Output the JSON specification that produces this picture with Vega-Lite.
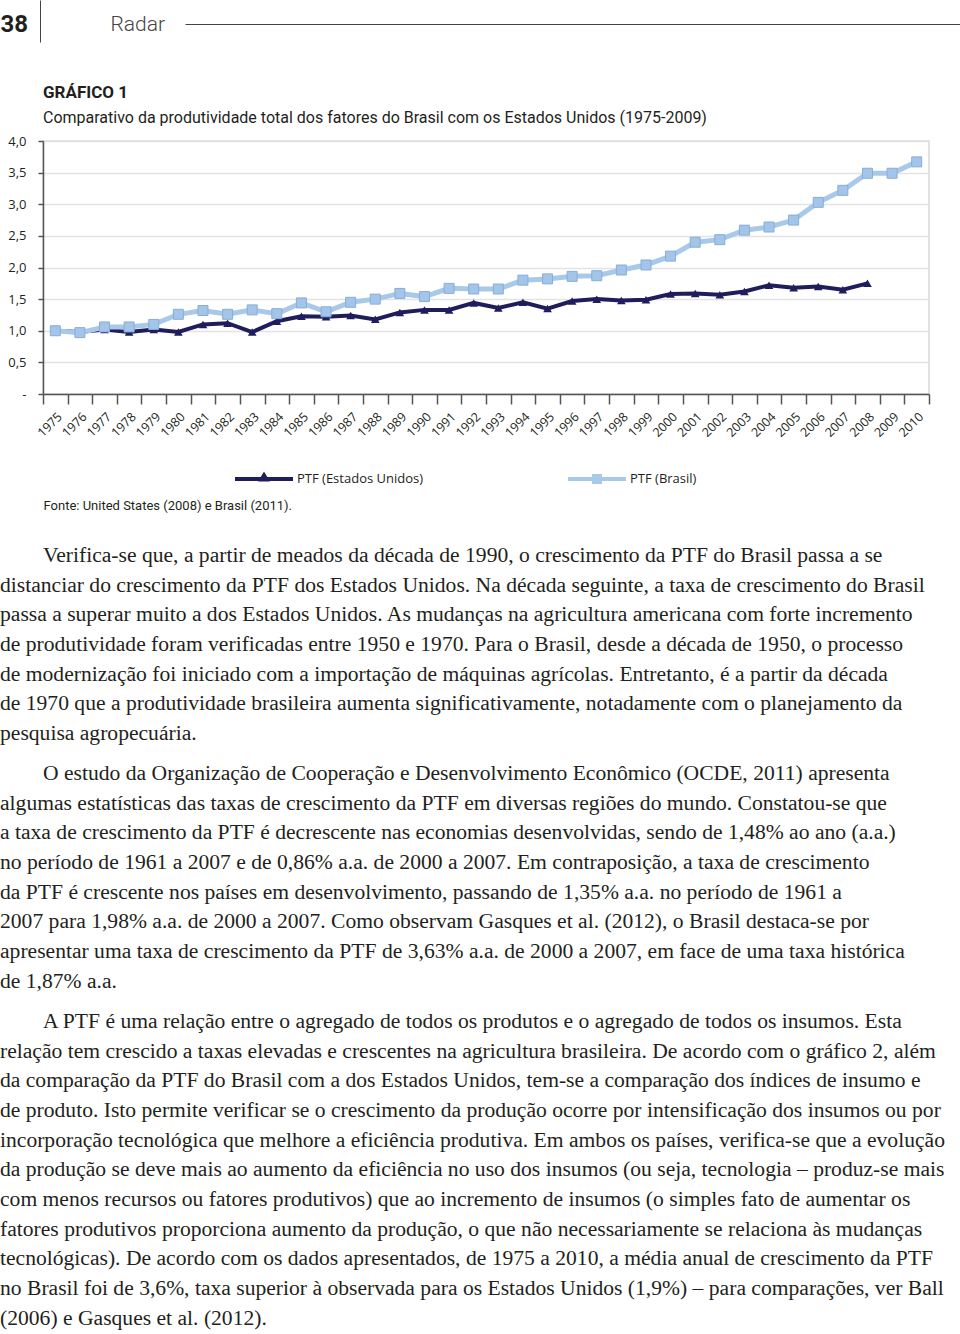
{
  "$schema": "https://vega.github.io/schema/vega-lite/v6.json",
  "background": "white",
  "padding": 0,
  "config": {"view": {"stroke": null}},
  "datasets": {
    "series": [
      {"year": 1975, "series": "PTF (Estados Unidos)", "ptf": 1.00},
      {"year": 1976, "series": "PTF (Estados Unidos)", "ptf": 0.98},
      {"year": 1977, "series": "PTF (Estados Unidos)", "ptf": 1.02},
      {"year": 1978, "series": "PTF (Estados Unidos)", "ptf": 0.98},
      {"year": 1979, "series": "PTF (Estados Unidos)", "ptf": 1.02},
      {"year": 1980, "series": "PTF (Estados Unidos)", "ptf": 0.98},
      {"year": 1981, "series": "PTF (Estados Unidos)", "ptf": 1.10},
      {"year": 1982, "series": "PTF (Estados Unidos)", "ptf": 1.12},
      {"year": 1983, "series": "PTF (Estados Unidos)", "ptf": 0.98},
      {"year": 1984, "series": "PTF (Estados Unidos)", "ptf": 1.15},
      {"year": 1985, "series": "PTF (Estados Unidos)", "ptf": 1.23},
      {"year": 1986, "series": "PTF (Estados Unidos)", "ptf": 1.22},
      {"year": 1987, "series": "PTF (Estados Unidos)", "ptf": 1.24},
      {"year": 1988, "series": "PTF (Estados Unidos)", "ptf": 1.18},
      {"year": 1989, "series": "PTF (Estados Unidos)", "ptf": 1.29},
      {"year": 1990, "series": "PTF (Estados Unidos)", "ptf": 1.33},
      {"year": 1991, "series": "PTF (Estados Unidos)", "ptf": 1.33},
      {"year": 1992, "series": "PTF (Estados Unidos)", "ptf": 1.44},
      {"year": 1993, "series": "PTF (Estados Unidos)", "ptf": 1.36},
      {"year": 1994, "series": "PTF (Estados Unidos)", "ptf": 1.45},
      {"year": 1995, "series": "PTF (Estados Unidos)", "ptf": 1.35},
      {"year": 1996, "series": "PTF (Estados Unidos)", "ptf": 1.47},
      {"year": 1997, "series": "PTF (Estados Unidos)", "ptf": 1.50},
      {"year": 1998, "series": "PTF (Estados Unidos)", "ptf": 1.48},
      {"year": 1999, "series": "PTF (Estados Unidos)", "ptf": 1.49},
      {"year": 2000, "series": "PTF (Estados Unidos)", "ptf": 1.58},
      {"year": 2001, "series": "PTF (Estados Unidos)", "ptf": 1.59},
      {"year": 2002, "series": "PTF (Estados Unidos)", "ptf": 1.57},
      {"year": 2003, "series": "PTF (Estados Unidos)", "ptf": 1.62},
      {"year": 2004, "series": "PTF (Estados Unidos)", "ptf": 1.72},
      {"year": 2005, "series": "PTF (Estados Unidos)", "ptf": 1.68},
      {"year": 2006, "series": "PTF (Estados Unidos)", "ptf": 1.70},
      {"year": 2007, "series": "PTF (Estados Unidos)", "ptf": 1.65},
      {"year": 2008, "series": "PTF (Estados Unidos)", "ptf": 1.75},
      {"year": 1975, "series": "PTF (Brasil)", "ptf": 1.00},
      {"year": 1976, "series": "PTF (Brasil)", "ptf": 0.97},
      {"year": 1977, "series": "PTF (Brasil)", "ptf": 1.06},
      {"year": 1978, "series": "PTF (Brasil)", "ptf": 1.06},
      {"year": 1979, "series": "PTF (Brasil)", "ptf": 1.10},
      {"year": 1980, "series": "PTF (Brasil)", "ptf": 1.26},
      {"year": 1981, "series": "PTF (Brasil)", "ptf": 1.32},
      {"year": 1982, "series": "PTF (Brasil)", "ptf": 1.26},
      {"year": 1983, "series": "PTF (Brasil)", "ptf": 1.33},
      {"year": 1984, "series": "PTF (Brasil)", "ptf": 1.27},
      {"year": 1985, "series": "PTF (Brasil)", "ptf": 1.44},
      {"year": 1986, "series": "PTF (Brasil)", "ptf": 1.30},
      {"year": 1987, "series": "PTF (Brasil)", "ptf": 1.45},
      {"year": 1988, "series": "PTF (Brasil)", "ptf": 1.50},
      {"year": 1989, "series": "PTF (Brasil)", "ptf": 1.59},
      {"year": 1990, "series": "PTF (Brasil)", "ptf": 1.54},
      {"year": 1991, "series": "PTF (Brasil)", "ptf": 1.67},
      {"year": 1992, "series": "PTF (Brasil)", "ptf": 1.66},
      {"year": 1993, "series": "PTF (Brasil)", "ptf": 1.66},
      {"year": 1994, "series": "PTF (Brasil)", "ptf": 1.80},
      {"year": 1995, "series": "PTF (Brasil)", "ptf": 1.82},
      {"year": 1996, "series": "PTF (Brasil)", "ptf": 1.86},
      {"year": 1997, "series": "PTF (Brasil)", "ptf": 1.87},
      {"year": 1998, "series": "PTF (Brasil)", "ptf": 1.96},
      {"year": 1999, "series": "PTF (Brasil)", "ptf": 2.04},
      {"year": 2000, "series": "PTF (Brasil)", "ptf": 2.18},
      {"year": 2001, "series": "PTF (Brasil)", "ptf": 2.40},
      {"year": 2002, "series": "PTF (Brasil)", "ptf": 2.44},
      {"year": 2003, "series": "PTF (Brasil)", "ptf": 2.59},
      {"year": 2004, "series": "PTF (Brasil)", "ptf": 2.64},
      {"year": 2005, "series": "PTF (Brasil)", "ptf": 2.75},
      {"year": 2006, "series": "PTF (Brasil)", "ptf": 3.03},
      {"year": 2007, "series": "PTF (Brasil)", "ptf": 3.22},
      {"year": 2008, "series": "PTF (Brasil)", "ptf": 3.49},
      {"year": 2009, "series": "PTF (Brasil)", "ptf": 3.49},
      {"year": 2010, "series": "PTF (Brasil)", "ptf": 3.67}
    ],
    "body": [
      {"p": 1, "l": 1, "kind": "first", "t": "Verifica-se que, a partir de meados da década de 1990, o crescimento da PTF do Brasil passa a se"},
      {"p": 1, "l": 2, "kind": "cont", "t": "distanciar do crescimento da PTF dos Estados Unidos. Na década seguinte, a taxa de crescimento do Brasil"},
      {"p": 1, "l": 3, "kind": "cont", "t": "passa a superar muito a dos Estados Unidos. As mudanças na agricultura americana com forte incremento"},
      {"p": 1, "l": 4, "kind": "cont", "t": "de produtividade foram verificadas entre 1950 e 1970. Para o Brasil, desde a década de 1950, o processo"},
      {"p": 1, "l": 5, "kind": "cont", "t": "de modernização foi iniciado com a importação de máquinas agrícolas. Entretanto, é a partir da década"},
      {"p": 1, "l": 6, "kind": "cont", "t": "de 1970 que a produtividade brasileira aumenta significativamente, notadamente com o planejamento da"},
      {"p": 1, "l": 7, "kind": "cont", "t": "pesquisa agropecuária."},
      {"p": 2, "l": 1, "kind": "first", "t": "O estudo da Organização de Cooperação e Desenvolvimento Econômico (OCDE, 2011) apresenta"},
      {"p": 2, "l": 2, "kind": "cont", "t": "algumas estatísticas das taxas de crescimento da PTF em diversas regiões do mundo. Constatou-se que"},
      {"p": 2, "l": 3, "kind": "cont", "t": "a taxa de crescimento da PTF é decrescente nas economias desenvolvidas, sendo de 1,48% ao ano (a.a.)"},
      {"p": 2, "l": 4, "kind": "cont", "t": "no período de 1961 a 2007 e de 0,86% a.a. de 2000 a 2007. Em contraposição, a taxa de crescimento"},
      {"p": 2, "l": 5, "kind": "cont", "t": "da PTF é crescente nos países em desenvolvimento, passando de 1,35% a.a. no período de 1961 a"},
      {"p": 2, "l": 6, "kind": "cont", "t": "2007 para 1,98% a.a. de 2000 a 2007. Como observam Gasques et al. (2012), o Brasil destaca-se por"},
      {"p": 2, "l": 7, "kind": "cont", "t": "apresentar uma taxa de crescimento da PTF de 3,63% a.a. de 2000 a 2007, em face de uma taxa histórica"},
      {"p": 2, "l": 8, "kind": "cont", "t": "de 1,87% a.a."},
      {"p": 3, "l": 1, "kind": "first", "t": "A PTF é uma relação entre o agregado de todos os produtos e o agregado de todos os insumos. Esta"},
      {"p": 3, "l": 2, "kind": "cont", "t": "relação tem crescido a taxas elevadas e crescentes na agricultura brasileira. De acordo com o gráfico 2, além"},
      {"p": 3, "l": 3, "kind": "cont", "t": "da comparação da PTF do Brasil com a dos Estados Unidos, tem-se a comparação dos índices de insumo e"},
      {"p": 3, "l": 4, "kind": "cont", "t": "de produto. Isto permite verificar se o crescimento da produção ocorre por intensificação dos insumos ou por"},
      {"p": 3, "l": 5, "kind": "cont", "t": "incorporação tecnológica que melhore a eficiência produtiva. Em ambos os países, verifica-se que a evolução"},
      {"p": 3, "l": 6, "kind": "cont", "t": "da produção se deve mais ao aumento da eficiência no uso dos insumos (ou seja, tecnologia – produz-se mais"},
      {"p": 3, "l": 7, "kind": "cont", "t": "com menos recursos ou fatores produtivos) que ao incremento de insumos (o simples fato de aumentar os"},
      {"p": 3, "l": 8, "kind": "cont", "t": "fatores produtivos proporciona aumento da produção, o que não necessariamente se relaciona às mudanças"},
      {"p": 3, "l": 9, "kind": "cont", "t": "tecnológicas). De acordo com os dados apresentados, de 1975 a 2010, a média anual de crescimento da PTF"},
      {"p": 3, "l": 10, "kind": "cont", "t": "no Brasil foi de 3,6%, taxa superior à observada para os Estados Unidos (1,9%) – para comparações, ver Ball"},
      {"p": 3, "l": 11, "kind": "cont", "t": "(2006) e Gasques et al. (2012)."}
    ]
  },
  "spacing": 28,
  "vconcat": [
    {
      "spacing": 40,
      "vconcat": [
        {
          "width": 917,
          "height": 24,
          "data": {"values": [{"v": 0}]},
          "mark": {"type": "point", "opacity": 0, "size": 1},
          "encoding": {
            "x": {"field": "v", "type": "quantitative", "scale": {"domain": [0, 1], "range": [142, 917]},
              "axis": {"orient": "bottom", "domain": true, "domainColor": "#444", "domainWidth": 1, "ticks": false, "labels": false, "grid": false,
                "title": "Radar", "titleX": 67, "titleY": 0, "titleAlign": "left", "titleBaseline": "middle", "titleAnchor": "start",
                "titleFont": "Roboto", "titleFontSize": 21, "titleFontWeight": 300, "titleColor": "#444"}},
            "y": {"field": "v", "type": "quantitative", "scale": {"domain": [0, 1], "range": [42, 0]},
              "axis": {"orient": "left", "offset": 3, "domain": true, "domainColor": "#444", "domainWidth": 1, "ticks": false, "labels": false, "grid": false,
                "title": "38", "titleAngle": 0, "titleX": -40, "titleY": 24, "titleAlign": "left", "titleBaseline": "middle", "titleAnchor": "start",
                "titleFont": "Roboto", "titleFontSize": 24, "titleFontWeight": "bold", "titleColor": "#231f20"}}
          }
        },
        {
          "width": 886,
          "height": 253,
          "view": {"stroke": "#d9d9d9", "strokeWidth": 1.5},
          "title": {
            "text": "GRÁFICO 1",
            "subtitle": "Comparativo da produtividade total dos fatores do Brasil com os Estados Unidos (1975-2009)",
            "anchor": "start", "frame": "group",
            "font": "Roboto", "fontSize": 17, "fontWeight": "bold", "color": "#231f20",
            "subtitleFont": "Roboto", "subtitleFontSize": 16, "subtitleColor": "#231f20", "subtitlePadding": 8,
            "offset": 8
          },
          "data": {"name": "series"},
          "encoding": {
            "x": {"field": "year", "type": "ordinal", "bandPosition": 0.5,
              "scale": {"type": "band", "paddingInner": 0, "paddingOuter": 0},
              "axis": {"title": "Fonte: United States (2008) e Brasil (2011).", "titleAnchor": "start", "titleAlign": "left", "titleX": 0, "titleY": 111, "titleBaseline": "middle",
                "titleFont": "Roboto", "titleFontSize": 13, "titleFontWeight": "normal", "titleColor": "#231f20",
                "labelAngle": -45, "labelAlign": "right", "labelBaseline": "top", "labelFont": "Open Sans", "labelFontSize": 12.5, "labelColor": "#231f20", "labelPadding": 6, "labelOverlap": false,
                "tickBand": "extent", "tickSize": 10, "tickColor": "#555", "tickWidth": 1.5, "domainColor": "#555", "domainWidth": 1.5, "grid": false}},
            "y": {"field": "ptf", "type": "quantitative", "scale": {"domain": [0, 4]},
              "axis": {"title": null, "values": [0, 0.5, 1, 1.5, 2, 2.5, 3, 3.5, 4],
                "labelExpr": "datum.value == 0 ? '-' : replace(format(datum.value, '.1f'), '.', ',')",
                "labelFont": "Open Sans", "labelFontSize": 13, "labelColor": "#231f20", "labelPadding": 12,
                "tickSize": 5, "tickColor": "#555", "tickWidth": 1.5, "domainColor": "#555", "domainWidth": 1.5,
                "gridColor": "#e3e3e3", "gridWidth": 1.5}}
          },
          "layer": [
            {
              "transform": [{"filter": "datum.series === 'PTF (Estados Unidos)'"}],
              "mark": {"type": "line", "strokeWidth": 4},
              "encoding": {
                "color": {"field": "series", "type": "nominal",
                  "scale": {"domain": ["PTF (Estados Unidos)", "PTF (Brasil)"], "range": ["#1f1d5c", "#a9c9e9"]},
                  "legend": {"orient": "none", "legendX": 192, "legendY": 469, "direction": "horizontal", "columns": 2, "columnPadding": 144,
                    "title": null, "padding": 0, "symbolSize": 400, "symbolOffset": 19, "labelOffset": 23,
                    "labelFont": "Open Sans", "labelFontSize": 13, "labelColor": "#231f20",
                    "encode": {"symbols": {"update": {
                      "shape": {"signal": "datum.value === 'PTF (Brasil)' ? 'M-2.9,-0.2H2.9V0.2H-2.9Z M-0.5,-0.5H0.5V0.5H-0.5Z' : 'M-2.9,-0.2H2.9V0.2H-2.9Z M0,-0.75L0.6,0.25H-0.6Z'"},
                      "fill": {"signal": "scale('color', datum.value)"},
                      "stroke": {"signal": "scale('color', datum.value)"},
                      "strokeWidth": {"value": 0},
                      "opacity": {"value": 1}
                    }}}}
                }
              }
            },
            {
              "transform": [{"filter": "datum.series === 'PTF (Estados Unidos)'"}],
              "mark": {"type": "point", "shape": "triangle-up", "filled": true, "size": 75, "color": "#1f1d5c", "opacity": 1}
            },
            {
              "transform": [{"filter": "datum.series === 'PTF (Brasil)'"}],
              "mark": {"type": "line", "strokeWidth": 5},
              "encoding": {"color": {"field": "series", "type": "nominal"}}
            },
            {
              "transform": [{"filter": "datum.series === 'PTF (Brasil)'"}],
              "mark": {"type": "point", "shape": "square", "filled": true, "size": 100, "fill": "#a3c5e9", "stroke": "#88add6", "strokeWidth": 1, "opacity": 1}
            }
          ]
        }
      ]
    },
    {
      "spacing": 10,
      "vconcat": [
        {
          "width": 905, "height": {"step": 29.7},
          "data": {"name": "body"},
          "transform": [{"filter": "datum.p === 1"}],
          "mark": {"type": "text", "align": "left", "baseline": "middle", "font": "Liberation Serif", "fontSize": 21.6, "color": "#231f20"},
          "encoding": {
            "y": {"field": "l", "type": "ordinal", "axis": null, "scale": {"type": "point", "padding": 0.5}},
            "x": {"field": "kind", "type": "nominal", "axis": null, "scale": {"type": "point", "domain": ["cont", "first"], "range": [-43, 0], "padding": 0}},
            "text": {"field": "t"}
          }
        },
        {
          "width": 905, "height": {"step": 29.7},
          "data": {"name": "body"},
          "transform": [{"filter": "datum.p === 2"}],
          "mark": {"type": "text", "align": "left", "baseline": "middle", "font": "Liberation Serif", "fontSize": 21.6, "color": "#231f20"},
          "encoding": {
            "y": {"field": "l", "type": "ordinal", "axis": null, "scale": {"type": "point", "padding": 0.5}},
            "x": {"field": "kind", "type": "nominal", "axis": null, "scale": {"type": "point", "domain": ["cont", "first"], "range": [-43, 0], "padding": 0}},
            "text": {"field": "t"}
          }
        },
        {
          "width": 905, "height": {"step": 29.7},
          "data": {"name": "body"},
          "transform": [{"filter": "datum.p === 3"}],
          "mark": {"type": "text", "align": "left", "baseline": "middle", "font": "Liberation Serif", "fontSize": 21.6, "color": "#231f20"},
          "encoding": {
            "y": {"field": "l", "type": "ordinal", "axis": null, "scale": {"type": "point", "padding": 0.5}},
            "x": {"field": "kind", "type": "nominal", "axis": null, "scale": {"type": "point", "domain": ["cont", "first"], "range": [-43, 0], "padding": 0}},
            "text": {"field": "t"}
          }
        }
      ]
    }
  ]
}
